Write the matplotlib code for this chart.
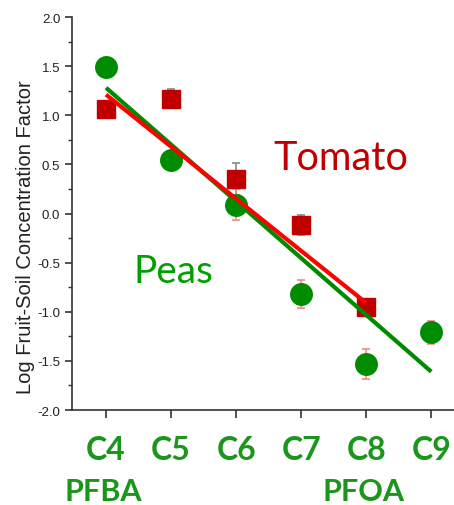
import numpy as np
import matplotlib
matplotlib.use('Agg')
import matplotlib.pyplot as plt

# chain length (carbon number) and log fruit/soil concentration factors
chains = [4, 5, 6, 7, 8, 9]
chain_labels = ['C4', 'C5', 'C6', 'C7', 'C8', 'C9']

peas_x = [4, 5, 6, 7, 8, 9]
peas_y = [1.49, 0.54, 0.09, -0.82, -1.53, -1.21]
peas_err = [0.03, 0.03, 0.16, 0.14, 0.15, 0.12]

tomato_x = [4, 5, 6, 7, 8]
tomato_y = [1.06, 1.17, 0.35, -0.12, -0.95]
tomato_err = [0.03, 0.10, 0.16, 0.10, 0.03]

# regression lines (start, end)
peas_fit_x = [4, 9]
peas_fit_y = [1.28, -1.61]
tomato_fit_x = [4, 8]
tomato_fit_y = [1.21, -0.91]

fig = plt.figure(figsize=(4.54, 5.06), dpi=100)
ax = fig.add_axes([72/454, 95/506, 382/454, 393/506])

ax.errorbar(tomato_x, tomato_y, yerr=tomato_err, fmt='none', ecolor='#8a8a8a',
            elinewidth=1.2, capsize=3, capthick=1.2, zorder=2)
ax.errorbar(peas_x, peas_y, yerr=peas_err, fmt='none', ecolor='#f08a8a',
            elinewidth=1.2, capsize=3, capthick=1.2, zorder=2)

ax.plot(tomato_x, tomato_y, 's', color='#c00000', markersize=13, zorder=3)
ax.plot(peas_x, peas_y, 'o', color='#008c00', markersize=15.5, zorder=3)

ax.plot(peas_fit_x, peas_fit_y, color='#008a00', lw=3, zorder=4, solid_capstyle='butt')
ax.plot(tomato_fit_x, tomato_fit_y, color='#ff0000', lw=3, zorder=5, solid_capstyle='butt')

ax.text(6.58, 0.45, 'Tomato', color='#c00000', fontsize=28.5, family='Lato')
ax.text(4.42, -0.70, 'Peas', color='#00a000', fontsize=28, family='Lato')

ax.set_xlim(3.477, 9.35)
ax.set_ylim(-2.0, 2.0)
ax.set_yticks(np.arange(-2.0, 2.01, 0.5))
ax.set_yticks(np.arange(-2.0, 2.01, 0.25), minor=True)
ax.set_yticklabels(['%.1f' % v for v in np.arange(-2.0, 2.01, 0.5)],
                   family='Liberation Sans', fontsize=9.5, color='#222222')
ax.set_xticks(chains)
ax.set_xticklabels(chain_labels, family='Lato', fontweight='bold',
                   fontsize=23, color='#1a961a')
ax.tick_params(axis='y', which='major', direction='out', length=5, width=1.2, color='#333333')
ax.tick_params(axis='y', which='minor', direction='out', length=3, width=1.0, color='#333333')
ax.tick_params(axis='x', direction='out', length=6, width=1.2, pad=12, color='#333333')

ax.set_ylabel('Log Fruit-Soil Concentration Factor', family='Liberation Sans',
              fontsize=14.5, color='#222222')
ax.yaxis.set_label_coords(-0.097, 0.443)

for s in ['top', 'right']:
    ax.spines[s].set_visible(False)
for s in ['left', 'bottom']:
    ax.spines[s].set_color('#333333')
    ax.spines[s].set_linewidth(1.2)

# compound names under the C4 and C8 ticks
for cx, name in [(4, 'PFBA'), (8, 'PFOA')]:
    ax.annotate(name, xy=(cx, 0), xycoords=('data', 'figure pixels'),
                xytext=(-2, 0), textcoords='offset points', ha='center', va='bottom',
                family='Lato', fontweight='bold', fontsize=22, color='#1a961a')

fig.savefig('out.png', dpi=100)
